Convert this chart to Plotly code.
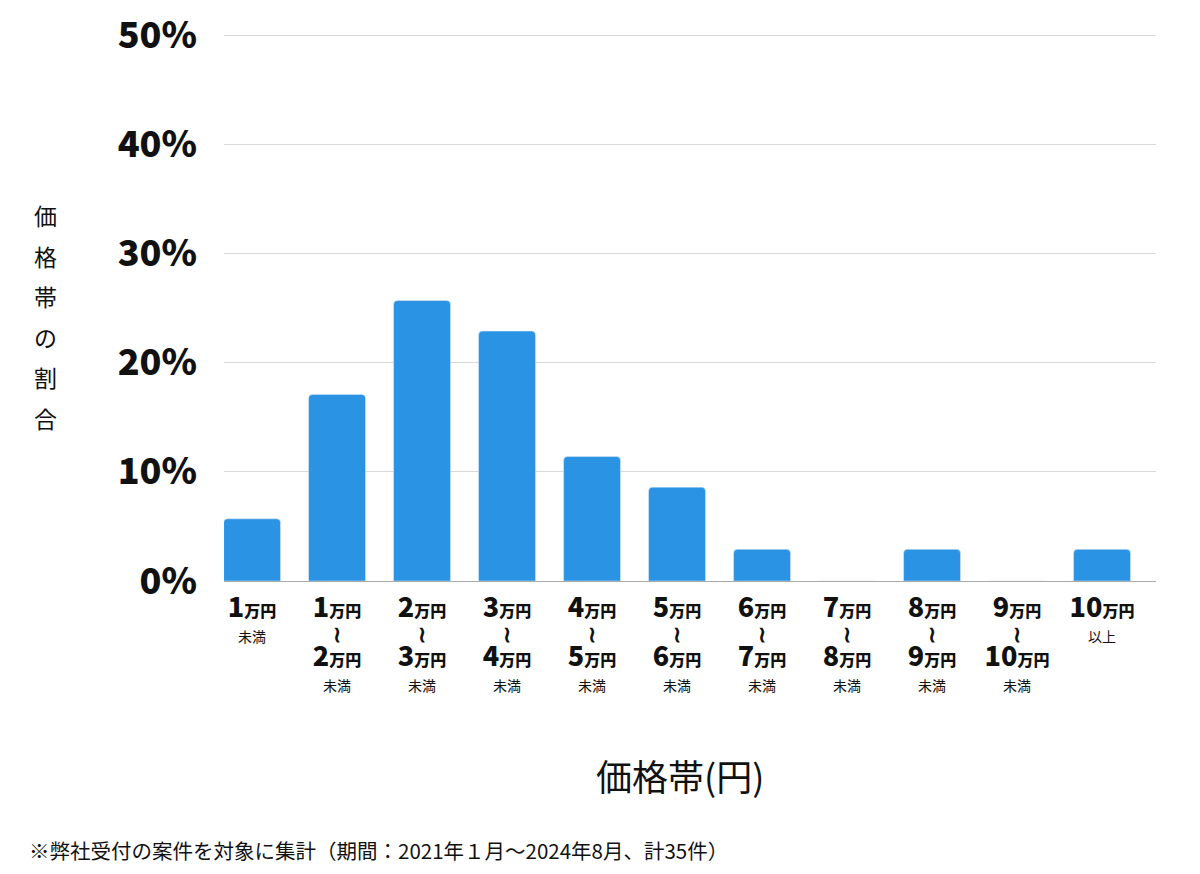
import plotly.graph_objects as go

categories = ["1万円未満", "1〜2万円", "2〜3万円", "3〜4万円", "4〜5万円", "5〜6万円",
              "6〜7万円", "7〜8万円", "8〜9万円", "9〜10万円", "10万円以上"]
values = [5.7, 17.1, 25.7, 22.9, 11.4, 8.6, 2.9, 0.0, 2.9, 0.0, 2.9]
low_nums = ["1", "1", "2", "3", "4", "5", "6", "7", "8", "9", "10"]
high_nums = [None, "2", "3", "4", "5", "6", "7", "8", "9", "10", None]
y_ticks = [0, 10, 20, 30, 40, 50]
y_title_chars = ["価", "格", "帯", "の", "割", "合"]

FONT = "Noto Sans CJK JP"
BIG = ('<span style="font-size:27px;font-weight:900">{}</span>'
       '<span style="font-size:16px;font-weight:900">万円</span>')
SMALL = '<span style="font-size:14px">{}</span>'
WAVE = '<span style="font-size:22px;font-weight:900">≀</span>'

ticktext = []
for i, lo in enumerate(low_nums):
    hi = high_nums[i]
    if i == 0:
        ticktext.append(BIG.format(lo) + "<br>" + SMALL.format("未満"))
    elif hi is None:
        ticktext.append(BIG.format(lo) + "<br>" + SMALL.format("以上"))
    else:
        ticktext.append(BIG.format(lo) + "<br>" + WAVE + "<br>" + BIG.format(hi) + "<br>" + SMALL.format("未満"))

fig = go.Figure(go.Bar(
    x=categories, y=values,
    marker=dict(color="#2a93e3", cornerradius=4),
    width=0.67,
    hoverinfo="skip",
))

# page body has an 8px margin
OFF = 8
W, H = 1184, 858
YMAX = 50.4
ml, mr, mt, mb = 224 - OFF, (W + OFF) - 1156, 23, (H + OFF) - 581
pw, ph = W - ml - mr, H - mt - mb


def px(x):
    return (x - OFF - ml) / pw


def py(y):
    return 1 - (y - OFF - mt) / ph


fig.update_layout(
    width=W, height=H,
    margin=dict(l=ml, r=mr, t=mt, b=mb, autoexpand=False),
    paper_bgcolor="white", plot_bgcolor="white",
    font=dict(family=FONT, color="#111"),
    showlegend=False,
    xaxis=dict(
        type="category",
        range=[-0.33, 10.635],
        tickmode="array", tickvals=categories, ticktext=ticktext,
        tickfont=dict(size=19, family=FONT, color="#111"),
        showline=True, linecolor="#aaaaaa", linewidth=1,
        showgrid=False, ticks="",
        ticklabelstandoff=12,
    ),
    yaxis=dict(
        range=[0, YMAX], tickvals=y_ticks,
        ticktext=[f"{v}%" for v in y_ticks],
        tickfont=dict(size=36, family=FONT, color="#111", weight=900),
        gridcolor="#d9d9d9", gridwidth=1, zeroline=False,
        ticklabelstandoff=26,
        ticklabeloverflow="allow",
    ),
)

annotations = []
for k, ch in enumerate(y_title_chars):
    ypix = 215 + k * 40.5
    annotations.append(dict(
        text=ch, xref="paper", yref="paper",
        x=px(45), y=py(ypix),
        showarrow=False, font=dict(size=23, family=FONT, color="#111"),
        xanchor="center", yanchor="middle",
    ))
annotations.append(dict(
    text="価格帯(円)", xref="paper", yref="paper",
    x=px(680), y=py(775),
    showarrow=False, font=dict(size=36, family=FONT, color="#111"),
    xanchor="center", yanchor="middle",
))
annotations.append(dict(
    text="※弊社受付の案件を対象に集計（期間：2021年１月〜2024年8月、計35件）",
    xref="paper", yref="paper",
    x=px(27), y=py(850),
    showarrow=False, font=dict(size=20.5, family=FONT, color="#111"),
    xanchor="left", yanchor="middle",
))
fig.update_layout(annotations=annotations)

fig.write_html("out.html")
